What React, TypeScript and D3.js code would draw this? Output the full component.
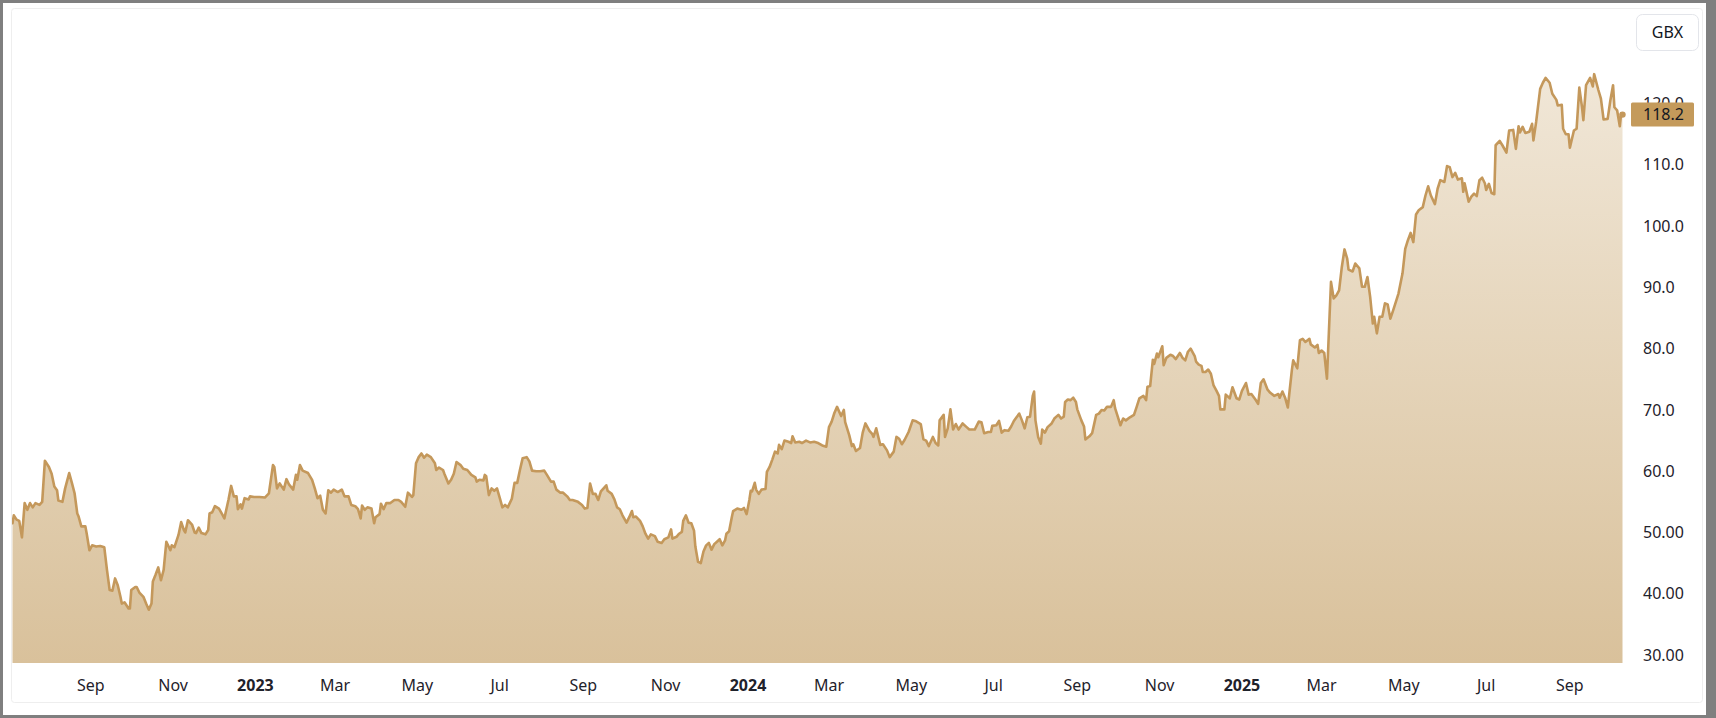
import React from "react";
import * as d3 from "d3";

// ---- data ----
const series: [string, number][] = [
  ["2022-07-05", 51.5], ["2022-07-06", 52.8], ["2022-07-08", 52.1], ["2022-07-10", 51.9], ["2022-07-12", 49.2],
  ["2022-07-14", 54.8], ["2022-07-16", 53.7], ["2022-07-18", 54.8], ["2022-07-20", 54.1], ["2022-07-22", 54.8],
  ["2022-07-25", 54.5], ["2022-07-27", 55.0], ["2022-07-29", 61.7], ["2022-08-01", 60.7], ["2022-08-03", 59.6],
  ["2022-08-05", 57.5], ["2022-08-07", 56.9], ["2022-08-08", 55.2], ["2022-08-11", 55.0], ["2022-08-13", 57.2],
  ["2022-08-16", 59.7], ["2022-08-18", 58.1], ["2022-08-20", 56.4], ["2022-08-22", 53.1], ["2022-08-23", 52.6],
  ["2022-08-25", 51.0], ["2022-08-28", 51.0], ["2022-08-29", 49.8], ["2022-08-31", 47.1], ["2022-09-02", 47.9],
  ["2022-09-05", 47.7], ["2022-09-08", 47.8], ["2022-09-11", 47.6], ["2022-09-13", 43.9], ["2022-09-15", 40.6],
  ["2022-09-17", 40.5], ["2022-09-19", 42.5], ["2022-09-21", 41.4], ["2022-09-23", 39.5], ["2022-09-24", 38.4],
  ["2022-09-26", 38.6], ["2022-09-29", 37.6], ["2022-09-30", 37.6], ["2022-10-01", 40.6], ["2022-10-04", 41.1],
  ["2022-10-05", 41.1], ["2022-10-07", 40.2], ["2022-10-10", 39.5], ["2022-10-12", 38.4], ["2022-10-14", 37.4],
  ["2022-10-16", 38.4], ["2022-10-17", 42.0], ["2022-10-19", 43.1], ["2022-10-21", 44.3], ["2022-10-23", 42.2],
  ["2022-10-25", 43.9], ["2022-10-27", 48.5], ["2022-10-30", 47.1], ["2022-10-31", 47.9], ["2022-11-02", 47.6],
  ["2022-11-05", 49.6], ["2022-11-07", 51.7], ["2022-11-09", 50.4], ["2022-11-10", 50.0], ["2022-11-12", 52.0],
  ["2022-11-15", 51.3], ["2022-11-17", 50.0], ["2022-11-18", 49.9], ["2022-11-20", 50.8], ["2022-11-22", 49.9],
  ["2022-11-25", 49.7], ["2022-11-27", 50.4], ["2022-11-28", 53.1], ["2022-11-30", 53.3], ["2022-12-02", 54.3],
  ["2022-12-05", 53.9], ["2022-12-07", 53.1], ["2022-12-09", 52.3], ["2022-12-12", 55.3], ["2022-12-14", 57.6],
  ["2022-12-16", 55.9], ["2022-12-18", 55.9], ["2022-12-19", 53.8], ["2022-12-21", 54.6], ["2022-12-22", 53.9],
  ["2022-12-24", 55.6], ["2022-12-27", 55.4], ["2022-12-28", 55.9], ["2022-12-31", 55.8], ["2023-01-04", 55.8],
  ["2023-01-08", 55.7], ["2023-01-11", 56.4], ["2023-01-14", 61.0], ["2023-01-15", 60.7], ["2023-01-17", 57.2],
  ["2023-01-19", 58.0], ["2023-01-22", 57.0], ["2023-01-24", 58.7], ["2023-01-26", 57.8], ["2023-01-29", 57.0],
  ["2023-01-31", 59.4], ["2023-02-01", 58.6], ["2023-02-03", 61.0], ["2023-02-05", 60.1], ["2023-02-09", 59.7],
  ["2023-02-12", 58.6], ["2023-02-14", 57.2], ["2023-02-16", 55.6], ["2023-02-18", 56.0], ["2023-02-20", 53.7],
  ["2023-02-22", 53.1], ["2023-02-24", 56.9], ["2023-02-26", 56.5], ["2023-02-28", 57.0], ["2023-03-03", 56.6],
  ["2023-03-06", 57.0], ["2023-03-08", 55.9], ["2023-03-11", 55.9], ["2023-03-13", 54.5], ["2023-03-16", 54.3],
  ["2023-03-18", 53.8], ["2023-03-20", 52.3], ["2023-03-21", 54.4], ["2023-03-23", 53.7], ["2023-03-25", 54.1],
  ["2023-03-28", 53.9], ["2023-03-30", 51.5], ["2023-03-31", 52.5], ["2023-04-03", 53.0], ["2023-04-04", 54.7],
  ["2023-04-06", 53.8], ["2023-04-08", 54.8], ["2023-04-11", 54.8], ["2023-04-14", 55.3], ["2023-04-17", 55.3],
  ["2023-04-19", 55.0], ["2023-04-22", 54.2], ["2023-04-24", 56.5], ["2023-04-27", 55.8], ["2023-04-28", 56.1],
  ["2023-04-30", 61.3], ["2023-05-02", 62.3], ["2023-05-04", 62.9], ["2023-05-06", 62.2], ["2023-05-08", 62.7],
  ["2023-05-11", 62.3], ["2023-05-14", 61.3], ["2023-05-15", 60.2], ["2023-05-17", 60.6], ["2023-05-20", 60.2],
  ["2023-05-21", 59.6], ["2023-05-24", 58.0], ["2023-05-26", 58.6], ["2023-05-28", 59.6], ["2023-05-30", 61.5],
  ["2023-06-02", 61.0], ["2023-06-04", 60.4], ["2023-06-07", 60.2], ["2023-06-10", 59.4], ["2023-06-13", 59.0],
  ["2023-06-14", 58.3], ["2023-06-16", 58.6], ["2023-06-19", 58.5], ["2023-06-20", 59.4], ["2023-06-21", 59.2],
  ["2023-06-23", 56.1], ["2023-06-25", 57.2], ["2023-06-27", 56.8], ["2023-06-29", 57.2], ["2023-07-01", 55.7],
  ["2023-07-03", 54.1], ["2023-07-05", 54.5], ["2023-07-07", 54.1], ["2023-07-10", 55.5], ["2023-07-12", 58.1],
  ["2023-07-14", 58.1], ["2023-07-16", 60.2], ["2023-07-18", 62.1], ["2023-07-21", 62.3], ["2023-07-23", 61.6],
  ["2023-07-25", 60.1], ["2023-07-28", 60.0], ["2023-07-31", 60.0], ["2023-08-03", 60.1], ["2023-08-05", 59.4],
  ["2023-08-08", 58.3], ["2023-08-10", 58.3], ["2023-08-12", 57.0], ["2023-08-15", 56.5], ["2023-08-17", 56.5],
  ["2023-08-20", 55.9], ["2023-08-22", 55.3], ["2023-08-24", 55.3], ["2023-08-28", 55.0], ["2023-08-31", 54.5],
  ["2023-09-02", 53.9], ["2023-09-04", 54.0], ["2023-09-06", 58.0], ["2023-09-08", 56.3], ["2023-09-10", 56.3],
  ["2023-09-12", 55.3], ["2023-09-14", 56.7], ["2023-09-16", 57.2], ["2023-09-18", 57.7], ["2023-09-19", 56.8],
  ["2023-09-22", 56.3], ["2023-09-24", 55.4], ["2023-09-26", 54.1], ["2023-09-28", 53.8], ["2023-09-30", 52.8],
  ["2023-10-03", 51.6], ["2023-10-05", 52.5], ["2023-10-07", 53.5], ["2023-10-08", 52.5], ["2023-10-10", 52.6],
  ["2023-10-13", 51.9], ["2023-10-15", 51.0], ["2023-10-17", 49.8], ["2023-10-19", 49.0], ["2023-10-21", 49.7],
  ["2023-10-24", 49.4], ["2023-10-26", 48.5], ["2023-10-29", 48.3], ["2023-10-31", 48.9], ["2023-11-03", 49.2],
  ["2023-11-05", 50.5], ["2023-11-06", 49.0], ["2023-11-09", 49.3], ["2023-11-11", 49.8], ["2023-11-13", 50.1],
  ["2023-11-14", 51.9], ["2023-11-16", 52.8], ["2023-11-18", 51.6], ["2023-11-20", 51.5], ["2023-11-22", 50.3],
  ["2023-11-23", 47.7], ["2023-11-25", 45.2], ["2023-11-27", 45.0], ["2023-11-29", 46.9], ["2023-12-01", 47.9],
  ["2023-12-03", 48.3], ["2023-12-05", 47.2], ["2023-12-07", 48.1], ["2023-12-09", 48.5], ["2023-12-11", 48.9],
  ["2023-12-13", 47.9], ["2023-12-15", 48.7], ["2023-12-16", 49.8], ["2023-12-18", 50.2], ["2023-12-20", 52.5],
  ["2023-12-21", 53.5], ["2023-12-24", 53.9], ["2023-12-27", 53.7], ["2023-12-29", 54.0], ["2023-12-31", 53.0],
  ["2024-01-02", 55.3], ["2024-01-03", 56.8], ["2024-01-04", 56.7], ["2024-01-06", 58.1], ["2024-01-07", 57.0],
  ["2024-01-09", 56.3], ["2024-01-11", 57.0], ["2024-01-14", 57.1], ["2024-01-15", 59.9], ["2024-01-17", 60.7],
  ["2024-01-19", 61.9], ["2024-01-21", 63.2], ["2024-01-23", 62.9], ["2024-01-24", 64.3], ["2024-01-26", 63.6],
  ["2024-01-28", 65.0], ["2024-01-31", 64.8], ["2024-02-02", 64.6], ["2024-02-03", 65.7], ["2024-02-05", 64.7],
  ["2024-02-08", 64.8], ["2024-02-10", 64.6], ["2024-02-13", 65.0], ["2024-02-16", 64.7], ["2024-02-19", 64.8],
  ["2024-02-22", 64.6], ["2024-02-25", 64.2], ["2024-02-28", 64.0], ["2024-03-01", 67.2], ["2024-03-03", 68.1],
  ["2024-03-05", 69.5], ["2024-03-07", 70.5], ["2024-03-10", 69.0], ["2024-03-12", 70.0], ["2024-03-13", 68.0],
  ["2024-03-16", 65.9], ["2024-03-18", 64.1], ["2024-03-19", 64.4], ["2024-03-21", 63.3], ["2024-03-24", 63.8],
  ["2024-03-26", 66.3], ["2024-03-28", 67.8], ["2024-03-31", 66.6], ["2024-04-02", 66.1], ["2024-04-03", 65.6],
  ["2024-04-05", 67.0], ["2024-04-08", 64.3], ["2024-04-10", 64.4], ["2024-04-13", 63.4], ["2024-04-15", 62.3],
  ["2024-04-18", 63.2], ["2024-04-20", 65.6], ["2024-04-22", 65.3], ["2024-04-24", 64.4], ["2024-04-26", 65.1],
  ["2024-04-29", 66.4], ["2024-05-02", 68.3], ["2024-05-04", 68.2], ["2024-05-08", 67.7], ["2024-05-10", 65.2],
  ["2024-05-12", 65.0], ["2024-05-14", 64.1], ["2024-05-17", 65.6], ["2024-05-19", 64.6], ["2024-05-21", 64.2],
  ["2024-05-22", 68.3], ["2024-05-25", 69.2], ["2024-05-26", 65.6], ["2024-05-28", 67.0], ["2024-05-30", 70.1],
  ["2024-06-01", 66.8], ["2024-06-03", 67.7], ["2024-06-05", 66.8], ["2024-06-08", 67.8], ["2024-06-11", 67.2],
  ["2024-06-13", 66.8], ["2024-06-17", 66.8], ["2024-06-20", 68.1], ["2024-06-22", 68.0], ["2024-06-24", 66.2],
  ["2024-06-27", 66.4], ["2024-06-29", 66.4], ["2024-06-30", 67.4], ["2024-07-03", 67.5], ["2024-07-05", 68.2],
  ["2024-07-07", 66.3], ["2024-07-09", 66.7], ["2024-07-12", 66.6], ["2024-07-14", 67.3], ["2024-07-16", 68.2],
  ["2024-07-18", 68.8], ["2024-07-20", 69.4], ["2024-07-22", 68.3], ["2024-07-24", 67.0], ["2024-07-26", 68.8],
  ["2024-07-28", 68.9], ["2024-07-30", 72.3], ["2024-07-31", 73.0], ["2024-08-01", 68.3], ["2024-08-03", 65.6],
  ["2024-08-05", 64.5], ["2024-08-06", 66.8], ["2024-08-08", 66.3], ["2024-08-10", 67.2], ["2024-08-13", 67.8],
  ["2024-08-15", 68.6], ["2024-08-18", 69.2], ["2024-08-20", 68.6], ["2024-08-22", 68.9], ["2024-08-23", 71.3],
  ["2024-08-25", 71.7], ["2024-08-27", 71.6], ["2024-08-29", 72.0], ["2024-08-31", 71.3], ["2024-09-01", 70.1],
  ["2024-09-04", 68.3], ["2024-09-06", 67.3], ["2024-09-07", 65.2], ["2024-09-10", 65.7], ["2024-09-12", 66.2],
  ["2024-09-15", 69.2], ["2024-09-17", 69.4], ["2024-09-19", 70.0], ["2024-09-21", 69.9], ["2024-09-23", 70.5],
  ["2024-09-26", 70.5], ["2024-09-28", 71.6], ["2024-09-29", 70.3], ["2024-10-01", 68.9], ["2024-10-03", 67.5],
  ["2024-10-05", 68.6], ["2024-10-07", 68.3], ["2024-10-10", 68.8], ["2024-10-13", 69.2], ["2024-10-15", 70.5],
  ["2024-10-17", 71.9], ["2024-10-20", 72.3], ["2024-10-22", 71.6], ["2024-10-23", 73.8], ["2024-10-25", 73.9],
  ["2024-10-27", 78.2], ["2024-10-28", 77.5], ["2024-10-30", 79.2], ["2024-10-31", 78.6], ["2024-11-02", 79.8],
  ["2024-11-03", 80.4], ["2024-11-04", 77.3], ["2024-11-06", 78.5], ["2024-11-09", 79.0], ["2024-11-11", 78.8],
  ["2024-11-13", 78.3], ["2024-11-16", 79.3], ["2024-11-18", 78.5], ["2024-11-20", 78.1], ["2024-11-22", 79.5],
  ["2024-11-24", 80.0], ["2024-11-27", 78.8], ["2024-11-28", 77.9], ["2024-11-30", 77.4], ["2024-12-02", 77.2],
  ["2024-12-03", 76.2], ["2024-12-05", 76.2], ["2024-12-07", 76.6], ["2024-12-09", 75.9], ["2024-12-11", 74.0],
  ["2024-12-13", 73.2], ["2024-12-15", 72.3], ["2024-12-16", 70.1], ["2024-12-19", 70.1], ["2024-12-20", 72.5],
  ["2024-12-23", 71.9], ["2024-12-25", 73.7], ["2024-12-28", 71.9], ["2024-12-30", 71.7], ["2025-01-01", 73.1],
  ["2025-01-04", 74.4], ["2025-01-06", 72.5], ["2025-01-08", 72.6], ["2025-01-11", 71.7], ["2025-01-13", 71.0],
  ["2025-01-15", 74.4], ["2025-01-17", 75.0], ["2025-01-20", 73.3], ["2025-01-22", 72.8], ["2025-01-25", 72.3],
  ["2025-01-28", 72.6], ["2025-01-29", 72.0], ["2025-01-31", 73.0], ["2025-02-02", 72.0], ["2025-02-04", 70.4],
  ["2025-02-07", 76.5], ["2025-02-08", 78.1], ["2025-02-11", 76.8], ["2025-02-13", 81.4], ["2025-02-15", 81.6],
  ["2025-02-17", 81.1], ["2025-02-20", 81.6], ["2025-02-21", 80.7], ["2025-02-24", 80.2], ["2025-02-26", 80.6],
  ["2025-02-27", 79.3], ["2025-03-01", 79.7], ["2025-03-03", 79.3], ["2025-03-05", 75.1], ["2025-03-07", 85.7],
  ["2025-03-08", 90.9], ["2025-03-10", 88.2], ["2025-03-12", 88.7], ["2025-03-14", 89.5], ["2025-03-16", 93.3],
  ["2025-03-18", 96.2], ["2025-03-20", 94.7], ["2025-03-21", 92.9], ["2025-03-24", 92.6], ["2025-03-26", 93.9],
  ["2025-03-29", 93.1], ["2025-03-31", 90.1], ["2025-04-02", 90.1], ["2025-04-04", 91.7], ["2025-04-06", 88.5],
  ["2025-04-08", 84.1], ["2025-04-09", 85.2], ["2025-04-11", 82.5], ["2025-04-13", 85.2], ["2025-04-15", 85.2],
  ["2025-04-17", 87.4], ["2025-04-19", 87.2], ["2025-04-21", 84.9], ["2025-04-23", 86.2], ["2025-04-26", 88.3],
  ["2025-04-27", 89.0], ["2025-04-30", 92.3], ["2025-05-02", 96.3], ["2025-05-04", 97.7], ["2025-05-06", 98.9],
  ["2025-05-08", 97.4], ["2025-05-10", 101.9], ["2025-05-12", 102.6], ["2025-05-15", 103.1], ["2025-05-17", 105.0],
  ["2025-05-19", 106.5], ["2025-05-21", 105.0], ["2025-05-24", 103.6], ["2025-05-26", 106.1], ["2025-05-28", 107.5],
  ["2025-05-31", 107.2], ["2025-06-02", 109.8], ["2025-06-04", 109.6], ["2025-06-06", 108.0], ["2025-06-08", 108.7],
  ["2025-06-10", 107.6], ["2025-06-13", 107.8], ["2025-06-14", 105.6], ["2025-06-15", 107.0], ["2025-06-18", 104.0],
  ["2025-06-20", 104.8], ["2025-06-22", 105.3], ["2025-06-24", 104.9], ["2025-06-26", 107.5], ["2025-06-28", 107.9],
  ["2025-06-30", 107.0], ["2025-07-01", 105.9], ["2025-07-03", 106.9], ["2025-07-05", 105.4], ["2025-07-07", 105.2],
  ["2025-07-08", 113.2], ["2025-07-11", 113.9], ["2025-07-13", 113.2], ["2025-07-16", 112.0], ["2025-07-18", 115.6],
  ["2025-07-21", 115.7], ["2025-07-23", 112.6], ["2025-07-25", 116.3], ["2025-07-26", 115.3], ["2025-07-28", 116.2],
  ["2025-07-30", 115.2], ["2025-08-02", 115.4], ["2025-08-04", 116.7], ["2025-08-05", 114.0], ["2025-08-07", 117.0],
  ["2025-08-10", 122.4], ["2025-08-12", 123.4], ["2025-08-14", 124.2], ["2025-08-17", 123.4], ["2025-08-19", 121.6],
  ["2025-08-22", 120.6], ["2025-08-23", 119.7], ["2025-08-26", 119.8], ["2025-08-27", 115.9], ["2025-08-29", 115.0],
  ["2025-08-31", 115.0], ["2025-09-01", 112.8], ["2025-09-04", 115.6], ["2025-09-06", 115.9], ["2025-09-08", 122.6],
  ["2025-09-10", 119.4], ["2025-09-11", 117.3], ["2025-09-13", 123.0], ["2025-09-16", 124.2], ["2025-09-18", 122.8],
  ["2025-09-19", 124.8], ["2025-09-22", 122.3], ["2025-09-24", 120.8], ["2025-09-26", 117.4], ["2025-09-29", 117.5],
  ["2025-10-01", 120.5], ["2025-10-03", 123.0], ["2025-10-04", 119.4], ["2025-10-06", 118.9], ["2025-10-08", 116.3],
  ["2025-10-09", 118.4], ["2025-10-10", 118.2],
];

const yTickValues = [30, 40, 50, 60, 70, 80, 90, 100, 110, 120];
const yTickLabels = ["30.00", "40.00", "50.00", "60.0", "70.0", "80.0", "90.0", "100.0", "110.0", "120.0"];
const xTickDates = [
  "2022-09-01", "2022-11-01", "2023-01-01", "2023-03-01", "2023-05-01", "2023-07-01",
  "2023-09-01", "2023-11-01", "2024-01-01", "2024-03-01", "2024-05-01", "2024-07-01",
  "2024-09-01", "2024-11-01", "2025-01-01", "2025-03-01", "2025-05-01", "2025-07-01", "2025-09-01",
];
const currencyLabel = "GBX";
const yDomain = [28.7, 135.6];

// ---- layout / style ----
const W = 1716;
const H = 718;
const plot = { left: 12, right: 1623, top: 8, bottom: 663 };
const LINE = "#c4985b";
const FONT = "'Noto Sans', 'Liberation Sans', sans-serif";
const TEXT = "#1f222b";

type Pt = { date: Date; value: number };

export default function App() {
  const data: Pt[] = series.map(([d, v]) => ({ date: new Date(d + "T00:00:00Z"), value: v }));
  const ext = d3.extent(data, (d) => d.date) as [Date, Date];
  const x = d3.scaleUtc().domain(ext).range([plot.left + 0.5, plot.right - 0.5]);
  const y = d3.scaleLinear().domain(yDomain).range([plot.bottom, plot.top]);

  const line = d3
    .line<Pt>()
    .x((d) => x(d.date))
    .y((d) => y(d.value));
  const area = d3
    .area<Pt>()
    .x((d) => x(d.date))
    .y0(plot.bottom)
    .y1((d) => y(d.value));

  const last = data[data.length - 1];
  const lastY = y(last.value);
  const fmtMonth = d3.utcFormat("%b");
  const fmtYear = d3.utcFormat("%Y");

  return (
    <svg
      width={W}
      height={H}
      style={{ position: "absolute", left: 0, top: 0, display: "block" }}
      fontFamily={FONT}
    >
      <defs>
        <linearGradient id="areaGrad" x1="0" y1={plot.top} x2="0" y2={plot.bottom} gradientUnits="userSpaceOnUse">
          <stop offset="0" stopColor="#f3ebde" />
          <stop offset="1" stopColor="#d9c19b" />
        </linearGradient>
        <clipPath id="plotClip">
          <rect x={plot.left} y={plot.top} width={plot.right - plot.left} height={plot.bottom - plot.top} />
        </clipPath>
      </defs>

      {/* frame */}
      <rect x={0} y={0} width={W} height={H} fill="#7f7f7f" />
      <rect x={3} y={3} width={1703} height={712} fill="#ffffff" />
      <rect x={11.5} y={8.5} width={1691} height={694} fill="none" stroke="#eeeeee" rx={3} />

      {/* area + line */}
      <g clipPath="url(#plotClip)">
        <path d={area(data) ?? ""} fill="url(#areaGrad)" />
        <path d={line(data) ?? ""} fill="none" stroke={LINE} strokeWidth={2.6} strokeLinejoin="round" strokeLinecap="round" />
      </g>
      <circle cx={x(last.date)} cy={lastY} r={3.2} fill={LINE} />

      {/* x axis labels */}
      <g fontSize={16} fill={TEXT}>
        {xTickDates.map((s) => {
          const d = new Date(s + "T00:00:00Z");
          const isYear = d.getUTCMonth() === 0;
          return (
            <text
              key={s}
              x={x(d)}
              y={691}
              textAnchor="middle"
              fontWeight={isYear ? 700 : 400}
            >
              {isYear ? fmtYear(d) : fmtMonth(d)}
            </text>
          );
        })}
      </g>

      {/* y axis labels */}
      <g fontSize={16} fill={TEXT}>
        {yTickValues.map((v, i) => (
          <text key={v} x={1643} y={y(v)} dy="0.35em">
            {yTickLabels[i]}
          </text>
        ))}
      </g>

      {/* last price badge */}
      <rect x={1631} y={lastY - 12} width={63} height={24} fill="#c49a5b" rx={1.5} />
      <text x={1643} y={lastY} dy="0.35em" fontSize={16} fill="#131722">
        {last.value.toFixed(1)}
      </text>

      {/* currency box */}
      <rect x={1636.5} y={14.5} width={62} height={36} rx={6} fill="#ffffff" stroke="#e3e5ea" />
      <text x={1667.5} y={32.5} dy="0.35em" textAnchor="middle" fontSize={16} fill="#131722">
        {currencyLabel}
      </text>
    </svg>
  );
}
